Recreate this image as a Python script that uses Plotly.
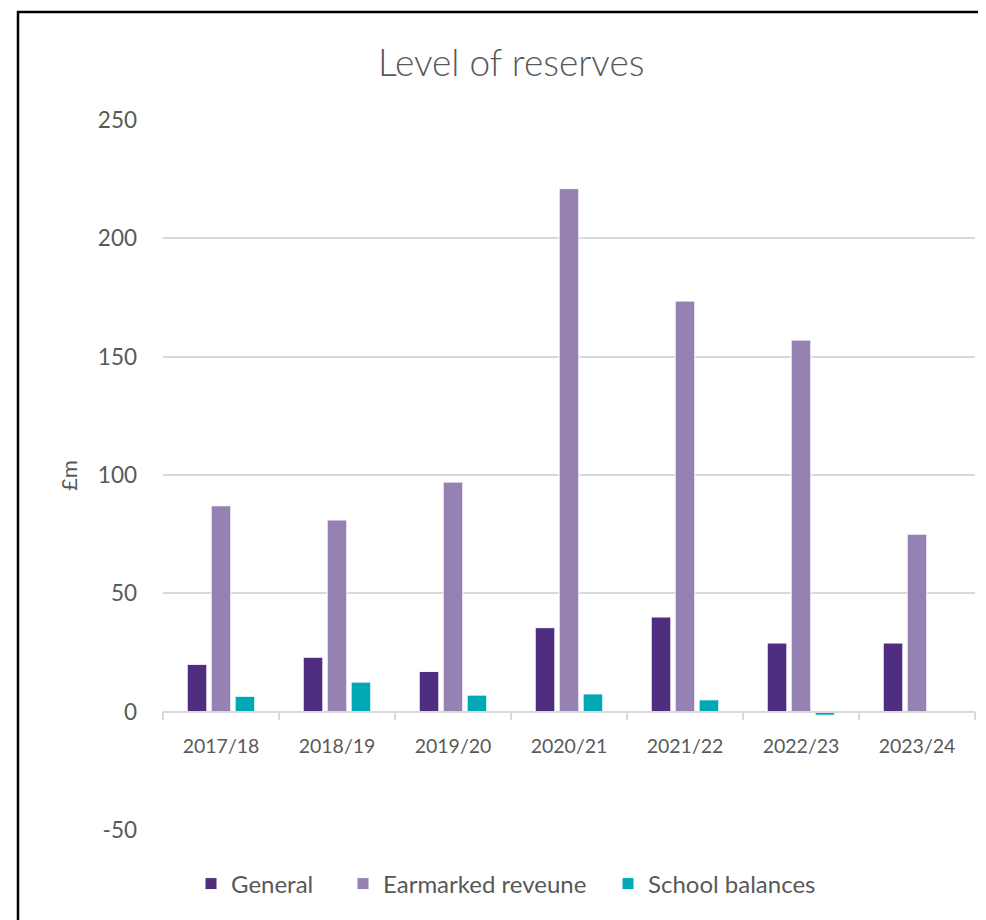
import plotly.graph_objects as go

categories = ["2017/18", "2018/19", "2019/20", "2020/21", "2021/22", "2022/23", "2023/24"]
general = [20, 23, 17, 35.5, 40, 29, 29]
earmarked = [87, 81, 97, 221, 173.5, 157, 75]
school = [6.5, 12.5, 7, 7.5, 5, -1.5, 0]
y_ticks = [-50, 0, 50, 100, 150, 200, 250]
y_tick_text = ["-50", "0", "50", "100", "150", "200", "250"]

OFF = 8  # page body margin
W, H = 986 - OFF, 920 - OFF
PLOT_L, PLOT_R, PLOT_T, PLOT_B = 163, 975, 120, 830  # screen px of plot area
ML, MR, MT, MB = PLOT_L - OFF, OFF + W - PLOT_R, PLOT_T - OFF, OFF + H - PLOT_B
PW, PH = W - ML - MR, H - MT - MB
YMIN, YMAX = -50, 250

def px_x(x):  # screen px -> paper
    return (x - OFF - ML) / PW

def px_y(y):
    return (H - MB - (y - OFF)) / PH

FONT = "Lato"
GREY = "#595959"

fig = go.Figure()
fig.add_bar(x=categories, y=general, name="General", legend="legend",
            marker=dict(color="#4F2D7F", line=dict(color="white", width=1)))
fig.add_bar(x=categories, y=earmarked, name="Earmarked reveune", legend="legend2",
            marker=dict(color="#9582B3", line=dict(color="white", width=1)))
fig.add_bar(x=categories, y=school, name="School balances", legend="legend3",
            marker=dict(color="#00A8B4", line=dict(color="white", width=1)))

def leg(xs):
    return dict(orientation="h", x=px_x(xs), xanchor="left", y=px_y(884), yanchor="middle",
                font=dict(size=24, color=GREY, family=FONT), itemwidth=30, bgcolor="rgba(0,0,0,0)")

bx0, by0 = px_x(18), px_y(12)
bx1, by1 = px_x(1100), px_y(1100)
border_path = f"M {bx0},{by1} L {bx0},{by0} L {bx1},{by0}"

fig.update_layout(
    width=W, height=H,
    margin=dict(l=ML, r=MR, t=MT, b=MB, autoexpand=False),
    paper_bgcolor="white", plot_bgcolor="white",
    barmode="group", bargap=0.38, bargroupgap=0.18,
    font=dict(family=FONT, color=GREY, size=22),
    showlegend=True,
    legend=leg(191), legend2=leg(343), legend3=leg(608),
    xaxis=dict(anchor="free", position=(0 - YMIN) / (YMAX - YMIN), showline=True, linecolor="#D9D9D9", linewidth=1.5,
               ticks="outside", tickson="boundaries", ticklen=8, tickcolor="#D9D9D9", tickwidth=1.5,
               tickfont=dict(size=19.5, color=GREY), ticklabelstandoff=17, showgrid=False, zeroline=False),
    yaxis=dict(range=[YMIN, YMAX], tickvals=y_ticks, ticktext=y_tick_text, showgrid=True, gridcolor="#D9D9D9", gridwidth=1.5,
               zeroline=False, showline=False, tickfont=dict(size=22.5, color=GREY), ticklabelstandoff=25),
    shapes=[dict(type="path", xref="paper", yref="paper", path=border_path,
                 line=dict(color="black", width=2.5), layer="above")],
    annotations=[
        dict(text="Level of reserves", xref="paper", yref="paper", x=px_x(511), y=px_y(61), showarrow=False,
             font=dict(size=37, color=GREY, family=FONT, weight=300), xanchor="center", yanchor="middle"),
        dict(text="£m", xref="paper", yref="paper", x=px_x(68), y=px_y(476), showarrow=False, textangle=-90,
             font=dict(size=22, color=GREY, family=FONT), xanchor="center", yanchor="middle"),
    ],
)

fig.write_html("out.html")
